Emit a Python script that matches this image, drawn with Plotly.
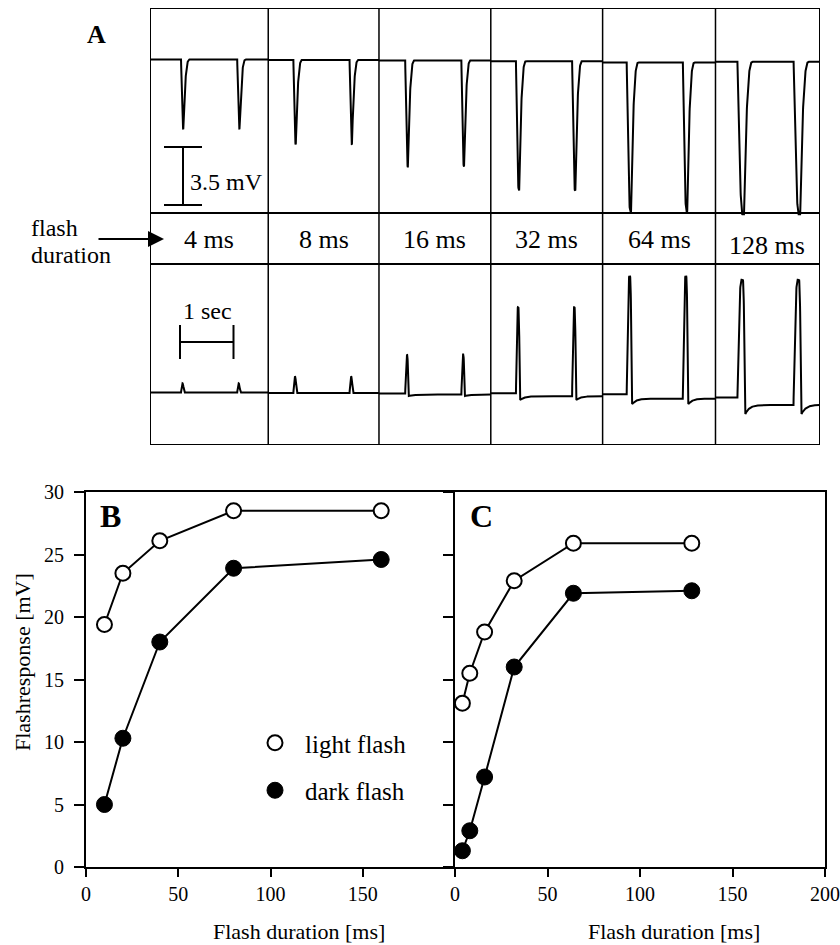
import numpy as np
import plotly.graph_objects as go

W, H = 840, 945

# ---------------- Panel B: flash response vs. flash duration ----------------
b_dur_ms = [10, 20, 40, 80, 160]
b_light_mv = [19.4, 23.5, 26.1, 28.5, 28.5]
b_dark_mv = [5.0, 10.3, 18.0, 23.9, 24.6]

# ---------------- Panel C ----------------
c_dur_ms = [4, 8, 16, 32, 64, 128]
c_light_mv = [13.1, 15.5, 18.8, 22.9, 25.9, 25.9]
c_dark_mv = [1.3, 2.9, 7.2, 16.0, 21.9, 22.1]

# ---------------- Panel A: example recordings ----------------
a_dur_ms = [4, 8, 16, 32, 64, 128]
a_labels = ["4 ms", "8 ms", "16 ms", "32 ms", "64 ms", "128 ms"]
a_sweep_s = [2.21, 2.07, 2.09, 2.09, 2.11, 1.94]      # length of each sweep
a_onset_s = [0.58, 0.47, 0.49, 0.47, 0.45, 0.41]      # first flash in each sweep
a_flash_gap_s = 1.05                                  # interval between the two flashes
a_light_amp_mv = [4.2, 5.1, 6.4, 7.8, 9.0, 9.2]       # light-flash response (downward)
a_light_base_mv = [0.0, -0.03, -0.06, -0.10, -0.18, -0.14]
a_dark_amp_mv = [0.55, 1.0, 2.35, 5.2, 7.1, 7.1]      # dark-flash response (upward)
a_dark_under_mv = [0.0, 0.0, 0.15, 0.4, 0.6, 1.0]     # after-hyperpolarisation
a_dark_base_mv = [0.0, -0.03, -0.06, -0.05, -0.10, -0.30]

# ---------------- geometry helpers ----------------
PX_PER_S = 53.5
PX_PER_MV = 58 / 3.5
A_LEFT, A_RIGHT, A_TOP, A_BOTTOM = 150, 820, 8, 445
A_XMAX = (A_RIGHT - A_LEFT) / PX_PER_S
A_YMAX = (A_BOTTOM - A_TOP) / PX_PER_MV


def px(x):
    return x / W


def py(y):
    return 1 - y / H


def ymv(y_px):
    """pixel row inside panel A -> value on its mV axis"""
    return (A_BOTTOM - y_px) / PX_PER_MV


LIGHT_OFFSET = ymv(59.5)
DARK_OFFSET = ymv(392.5)


def light_response(t, onset, dur, amp):
    td = 0.04 + 0.4 * dur
    th = 0.25 * dur
    tr = 0.12 + 0.35 * dur
    r = t - onset
    v = np.zeros_like(t)
    m = (r >= 0) & (r < td)
    v[m] = -amp * np.sin(0.5 * np.pi * r[m] / td)
    m = (r >= td) & (r < td + th)
    v[m] = -amp
    m = (r >= td + th) & (r < td + th + tr)
    u = (r[m] - td - th) / tr
    v[m] = -amp * (1 - u) ** 3
    return v


def dark_response(t, onset, dur, amp, under):
    tu = 0.025 + 0.35 * dur
    tp = 0.25 * dur
    tf = 0.03 + 0.12 * dur
    r = t - onset
    v = np.zeros_like(t)
    m = (r >= 0) & (r < tu)
    v[m] = amp * np.sin(0.5 * np.pi * r[m] / tu)
    m = (r >= tu) & (r < tu + tp)
    v[m] = amp
    m = (r >= tu + tp) & (r < tu + tp + tf)
    u = (r[m] - tu - tp) / tf
    v[m] = amp - (amp + under) * (1 - np.cos(0.5 * np.pi * u))
    m = r >= tu + tp + tf
    rr = r[m] - (tu + tp + tf)
    v[m] = -under * (0.45 + 0.55 * np.exp(-rr / 0.08))
    return v


fig = go.Figure()

# ---------------- Panel A traces ----------------
edges = np.concatenate([[0.0], np.cumsum(a_sweep_s)])
for i, dur_ms in enumerate(a_dur_ms):
    t0, t1 = edges[i], edges[i + 1]
    t = np.arange(t0, t1 + 1e-9, 0.002)
    dur = dur_ms / 1000.0
    on1 = t0 + a_onset_s[i]
    on2 = on1 + a_flash_gap_s
    light = a_light_base_mv[i] + light_response(t, on1, dur, a_light_amp_mv[i]) \
        + light_response(t, on2, dur, a_light_amp_mv[i])
    d1 = dark_response(t, on1, dur, a_dark_amp_mv[i], a_dark_under_mv[i])
    d2 = dark_response(t, on2, dur, a_dark_amp_mv[i], a_dark_under_mv[i])
    dark = a_dark_base_mv[i] + np.where(t < on2, d1, d2)
    fig.add_trace(go.Scatter(x=t, y=light + LIGHT_OFFSET, mode="lines",
                             line=dict(color="black", width=2), xaxis="x", yaxis="y",
                             showlegend=False, hoverinfo="skip"))
    fig.add_trace(go.Scatter(x=t, y=dark + DARK_OFFSET, mode="lines",
                             line=dict(color="black", width=2), xaxis="x", yaxis="y",
                             showlegend=False, hoverinfo="skip"))

# ---------------- Panels B and C ----------------
open_marker = dict(symbol="circle", size=15, color="white", line=dict(color="black", width=2))
filled_marker = dict(symbol="circle", size=16, color="black", line=dict(color="black", width=1))
line_style = dict(color="black", width=2)

for xs, light_v, dark_v, xa, ya in ((b_dur_ms, b_light_mv, b_dark_mv, "x2", "y2"),
                                    (c_dur_ms, c_light_mv, c_dark_mv, "x3", "y3")):
    fig.add_trace(go.Scatter(x=xs, y=light_v, mode="lines+markers", showlegend=False,
                             marker=open_marker, line=line_style,
                             xaxis=xa, yaxis=ya, cliponaxis=False))
    fig.add_trace(go.Scatter(x=xs, y=dark_v, mode="lines+markers", showlegend=False,
                             marker=filled_marker, line=line_style,
                             xaxis=xa, yaxis=ya, cliponaxis=False))

# legend entries: symbols only
fig.add_trace(go.Scatter(x=[None], y=[None], mode="markers", name="light flash",
                         legendgroup="light", marker=open_marker, xaxis="x2", yaxis="y2"))
fig.add_trace(go.Scatter(x=[None], y=[None], mode="markers", name="dark flash",
                         legendgroup="dark", marker=filled_marker, xaxis="x2", yaxis="y2"))

# ---------------- shapes for panel A frame and scale bars ----------------
shapes = []
frame = dict(color="black", width=2)
shapes.append(dict(type="rect", xref="x", yref="y", x0=0, x1=A_XMAX, y0=0, y1=A_YMAX,
                   line=frame, layer="above"))
for e in edges[1:-1]:
    shapes.append(dict(type="line", xref="x", yref="y", x0=e, x1=e, y0=0, y1=A_YMAX,
                       line=dict(color="black", width=1.5)))
for yb in (ymv(213), ymv(264)):
    shapes.append(dict(type="line", xref="x", yref="y", x0=0, x1=A_XMAX, y0=yb, y1=yb,
                       line=frame))

# 3.5 mV scale bar
mv_bar = 3.5
bx = (183 - A_LEFT) / PX_PER_S
by0 = ymv(205)
cap = 19 / PX_PER_S
shapes.append(dict(type="line", xref="x", yref="y", x0=bx, x1=bx, y0=by0, y1=by0 + mv_bar,
                   line=frame))
for yy in (by0, by0 + mv_bar):
    shapes.append(dict(type="line", xref="x", yref="y", x0=bx - cap, x1=bx + cap, y0=yy, y1=yy,
                       line=frame))

# 1 sec scale bar
sec_bar = 1.0
sx0 = (180 - A_LEFT) / PX_PER_S
sy = ymv(342)
scap = 17 / PX_PER_MV
shapes.append(dict(type="line", xref="x", yref="y", x0=sx0, x1=sx0 + sec_bar, y0=sy, y1=sy,
                   line=frame))
for xx in (sx0, sx0 + sec_bar):
    shapes.append(dict(type="line", xref="x", yref="y", x0=xx, x1=xx, y0=sy - scap, y1=sy + scap,
                       line=frame))

# ---------------- annotations ----------------
SERIF = "Liberation Serif, Times New Roman, Times, serif"
ann = []


def text(x, y, s, size, xanchor="center", yanchor="middle", **kw):
    ann.append(dict(x=px(x), y=py(y), xref="paper", yref="paper", text=s, showarrow=False,
                    xanchor=xanchor, yanchor=yanchor,
                    font=dict(family=SERIF, size=size, color="black"), **kw))


text(96, 34, "<b>A</b>", 26)
text(110, 516, "<b>B</b>", 32)
text(482, 516, "<b>C</b>", 32)

for i, lab in enumerate(a_labels):
    xc = A_LEFT + (edges[i] + edges[i + 1]) / 2 * PX_PER_S
    text(xc, 245 if i == len(a_labels) - 1 else 239, lab, 26)

text(29, 228, "flash", 24, xanchor="left")
text(29, 255, "duration", 24, xanchor="left")
text(188, 182, "3.5 mV", 24, xanchor="left")
text(207, 311, "1 sec", 24)

ann.append(dict(x=px(164), y=py(239), xref="paper", yref="paper", text="", showarrow=True,
                ax=-67, ay=0, arrowhead=2, arrowsize=1.6, arrowwidth=2, arrowcolor="black",
                standoff=0))

text(299, 946, "Flash duration [ms]", 22, yanchor="bottom")
text(674, 946, "Flash duration [ms]", 22, yanchor="bottom")
text(22, 662, "Flashresponse [mV]", 22, textangle=-90)

# ---------------- layout ----------------
axis_common = dict(showline=True, linecolor="black", linewidth=2, ticks="outside",
                   tickcolor="black", tickwidth=1.5, showgrid=False, zeroline=False,
                   automargin=False,
                   tickfont=dict(family=SERIF, size=20, color="black"))
plot_dom_y = [py(867), py(492)]

fig.update_layout(
    width=W, height=H,
    autosize=False,
    margin=dict(l=0, r=0, t=0, b=0, pad=0, autoexpand=False),
    paper_bgcolor="white", plot_bgcolor="rgba(0,0,0,0)",
    font=dict(family=SERIF, color="black"),
    xaxis=dict(domain=[px(A_LEFT), px(A_RIGHT)], range=[0, A_XMAX], visible=False,
               anchor="y", fixedrange=True, automargin=False),
    yaxis=dict(domain=[py(A_BOTTOM), py(A_TOP)], range=[0, A_YMAX], visible=False,
               anchor="x", fixedrange=True, automargin=False),
    xaxis2=dict(domain=[px(86), px(455)], range=[0, 200], tickvals=[0, 50, 100, 150],
                anchor="y2", ticklen=8, mirror=True, **axis_common),
    yaxis2=dict(domain=plot_dom_y, range=[0, 30], tickvals=[0, 5, 10, 15, 20, 25, 30],
                anchor="x2", ticklen=10, ticklabelstandoff=6, **axis_common),
    xaxis3=dict(domain=[px(455), px(825)], range=[0, 200], tickvals=[0, 50, 100, 150, 200],
                anchor="y3", ticklen=8, mirror=True, **axis_common),
    yaxis3=dict(domain=plot_dom_y, range=[0, 30], tickvals=[0, 5, 10, 15, 20, 25, 30],
                anchor="x3", ticklen=10, showticklabels=False, mirror=True, **axis_common),
    showlegend=True,
    legend=dict(x=px(245), y=py(720), xanchor="left", yanchor="top",
                bgcolor="rgba(0,0,0,0)", font=dict(family=SERIF, size=25, color="black"),
                tracegroupgap=12, traceorder="grouped", itemwidth=50, itemsizing="trace"),
    shapes=shapes,
    annotations=ann,
)

fig.write_html("out.html")
